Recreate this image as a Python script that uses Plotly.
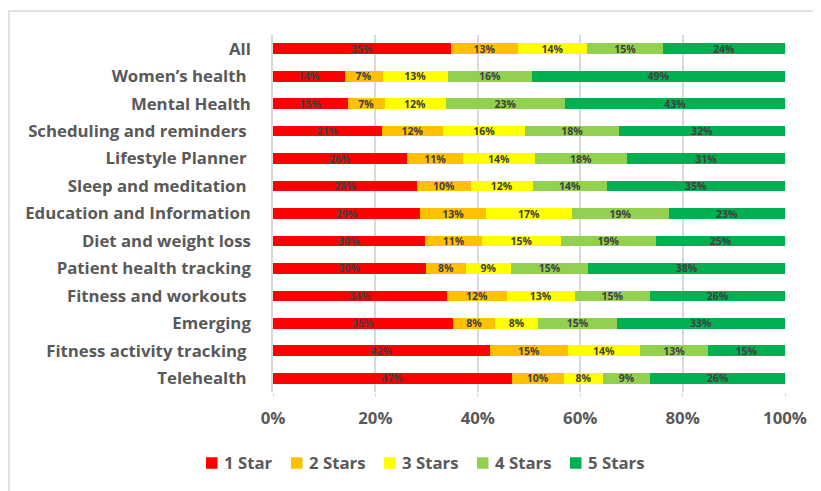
import plotly.graph_objects as go

categories = [
    "All", "Women’s health\u00a0", "Mental Health", "Scheduling and reminders\u00a0",
    "Lifestyle Planner\u00a0", "Sleep and meditation\u00a0", "Education and Information",
    "Diet and weight loss", "Patient health tracking", "Fitness and workouts\u00a0",
    "Emerging", "Fitness activity tracking\u00a0", "Telehealth\u00a0",
]

star1 = [34.8, 14.0, 14.6, 21.3, 26.2, 28.2, 28.8, 29.7, 29.9, 34.0, 35.2, 42.4, 46.6]
star2 = [13.0, 7.4, 7.2, 11.9, 11.0, 10.4, 12.8, 11.2, 7.8, 11.7, 8.2, 15.2, 10.2]
star3 = [13.6, 12.8, 11.9, 16.1, 13.9, 12.2, 16.8, 15.3, 8.8, 13.2, 8.4, 14.1, 7.7]
star4 = [14.8, 16.4, 23.4, 18.3, 18.1, 14.4, 18.9, 18.7, 15.1, 14.8, 15.4, 13.3, 9.2]
star5 = [23.8, 49.4, 42.9, 32.4, 30.8, 34.8, 22.7, 25.1, 38.4, 26.3, 32.8, 15.0, 26.3]

series_names = ["1 Star", "2 Stars", "3 Stars", "4 Stars", "5 Stars"]
series_values = [star1, star2, star3, star4, star5]
colors = ["#FF0000", "#FFC000", "#FFFF00", "#92D050", "#00B050"]

tick_vals = [0, 20, 40, 60, 80, 100]
tick_text = ["0%", "20%", "40%", "60%", "80%", "100%"]

FONT = "Open Sans"
GREY = "#595959"

fig = go.Figure()
for name, vals, col in zip(series_names, series_values, colors):
    fig.add_trace(go.Bar(
        y=categories, x=vals, name=name, orientation="h",
        marker=dict(color=col, line=dict(width=0)),
        texttemplate="%{x:.0f}%", textposition="inside",
        insidetextanchor="middle",
        textfont=dict(family=FONT, size=10.5, color="#404040", weight="bold"),
        hoverinfo="skip", showlegend=False,
    ))

OFF = 8  # page body margin
W, H = 821 - OFF, 491 - OFF
# target plot area in page pixels: x 273..785, y 35..392
L = 273 - OFF
R = W - (785 - OFF)
T = 35 - OFF
B = H - (392 - OFF)
pw = W - L - R
ph = H - T - B

def px_to_paper_x(px):
    return (px - OFF - L) / pw

def py_to_paper_y(py):
    return (H - B - (py - OFF)) / ph

# manual legend (Excel-style: small square then label)
legend_left = [206, 291, 384, 477, 570]  # page px of each square's left edge
SQ = 11.5
LEG_Y = 463
shapes = [dict(
    type="rect", xref="paper", yref="paper",
    x0=px_to_paper_x(9), x1=px_to_paper_x(830),
    y0=py_to_paper_y(500), y1=py_to_paper_y(11),
    line=dict(color="#D9D9D9", width=1.5), fillcolor="rgba(0,0,0,0)",
    layer="below",
)]
annotations = []
for name, col, lx in zip(series_names, colors, legend_left):
    shapes.append(dict(
        type="rect", xref="paper", yref="paper",
        x0=px_to_paper_x(lx), x1=px_to_paper_x(lx + SQ),
        y0=py_to_paper_y(LEG_Y + SQ / 2), y1=py_to_paper_y(LEG_Y - SQ / 2),
        line=dict(width=0), fillcolor=col,
    ))
    annotations.append(dict(
        text=name, xref="paper", yref="paper",
        x=px_to_paper_x(lx + SQ + 4.5), y=py_to_paper_y(LEG_Y - 0.5),
        xanchor="left", yanchor="middle", showarrow=False,
        font=dict(family=FONT, size=16.8, color=GREY, weight="bold"),
    ))

fig.update_layout(
    width=W, height=H,
    margin=dict(l=L, r=R, t=T, b=B),
    barmode="stack", bargap=0.61,
    plot_bgcolor="white", paper_bgcolor="white",
    font=dict(family=FONT, color=GREY),
    uniformtext=dict(mode="show", minsize=10.5),
    showlegend=False,
    xaxis=dict(
        range=[0, 100], tickvals=tick_vals, ticktext=tick_text,
        showgrid=True, gridcolor="#D9D9D9", gridwidth=1.5,
        zeroline=False, showline=False,
        ticks="outside", ticklen=4, tickcolor="#D9D9D9",
        ticklabelstandoff=7,
        tickfont=dict(family=FONT, size=16.8, color=GREY, weight="bold"),
        fixedrange=True,
    ),
    yaxis=dict(
        categoryorder="array", categoryarray=categories,
        autorange="reversed",
        showgrid=False, zeroline=False,
        showline=True, linecolor="#D9D9D9", linewidth=1.5,
        ticks="", ticklabelstandoff=17,
        tickfont=dict(family=FONT, size=16.8, color=GREY, weight="bold"),
        fixedrange=True,
    ),
    shapes=shapes,
    annotations=annotations,
)

fig.write_html("out.html")
